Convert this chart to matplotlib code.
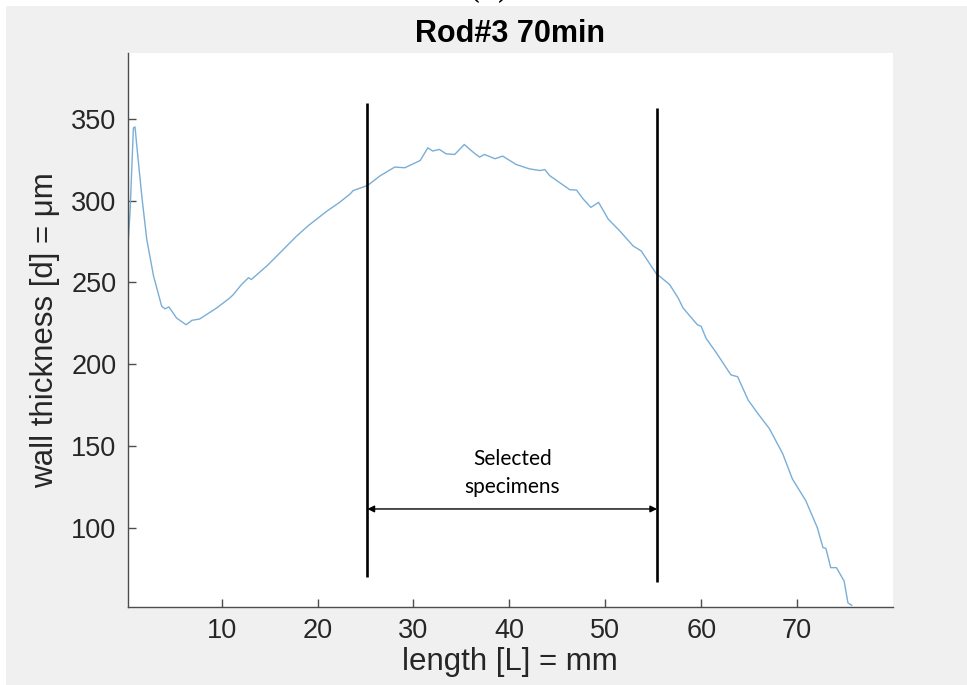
import numpy as np
import matplotlib
matplotlib.use("Agg")
import matplotlib.pyplot as plt
from matplotlib.patches import Rectangle

# perfil de espesor (longitud en mm, espesor en um)
longitud = [0.17, 0.45, 0.8, 0.97, 1.15, 1.67, 2.19, 2.9, 3.75, 4.1, 4.5, 5.3, 6.3,
            6.9, 7.7, 9.5, 10.86, 11.2, 12.08, 12.8, 13.1, 14.3, 14.7, 16.1, 17.8,
            19.0, 20.9, 22.3, 23.4, 23.7, 24.4, 24.9, 25.4, 26.5, 28.05, 29.1, 30.7,
            31.5, 32.0, 32.7, 33.4, 34.3, 35.3, 36.2, 36.9, 37.4, 38.5, 39.3, 40.7,
            42.1, 43.2, 43.7, 44.2, 45.3, 46.3, 47.0, 47.7, 48.5, 49.3, 50.3, 51.5,
            52.9, 53.75, 55.3, 56.7, 57.6, 58.1, 59.6, 60.0, 60.5, 61.6, 63.1, 63.8,
            64.9, 65.9, 67.1, 68.5, 69.5, 70.9, 72.1, 72.7, 73.0, 73.5, 74.1, 74.9,
            75.3, 75.7]
espesor = [266, 292.8, 344.3, 344.9, 333.6, 303, 276.4, 253.9, 235.5, 233.9, 235.1,
           228.3, 224.2, 226.9, 227.7, 234.5, 240.6, 242.5, 248.8, 252.9, 251.8, 258,
           260, 268.2, 278.2, 284.5, 293.2, 298.9, 304, 306, 307.5, 308.5, 310, 315,
           320.4, 320, 324.4, 332.2, 330.2, 331.2, 328.5, 328.1, 334.2, 329.6, 326.5,
           328.1, 325.5, 327.1, 322, 319.3, 318.3, 318.9, 315.2, 310.7, 306.6, 306.4,
           300.9, 295.8, 298.9, 288.7, 281.5, 272.3, 269.2, 255.5, 248.8, 240.5, 234.5,
           224.2, 223.2, 216, 206.9, 193.6, 192.5, 178.2, 170.1, 160.9, 145.5, 130.2,
           116.9, 100.5, 88.2, 87.8, 76, 76, 67.8, 54.5, 53]

# lineas que delimitan las probetas seleccionadas
corte_x = [25.2, 55.4]
corte_y_sup = [359.3, 356.3]
corte_y_inf = [70.3, 67.3]
flecha_y = 111.8
texto_sel = "Selected\nspecimens"

x_ticks = [10, 20, 30, 40, 50, 60, 70]
y_ticks = [100, 150, 200, 250, 300, 350]

gris_fondo = "#f0f0f0"
color_ejes = "#262626"

fig = plt.figure(figsize=(9.67, 6.85), dpi=100, facecolor="white")
fig.patches.append(Rectangle((6 / 967, 0), 1, (685 - 6) / 685, transform=fig.transFigure,
                             facecolor=gris_fondo, edgecolor="none", zorder=-10))
# la etiqueta (c) queda cortada en el borde superior, como en el original
fig.text(0.506, (685 - 5) / 685, "(c)", ha="center", va="bottom", fontsize=22,
         family="DejaVu Serif", color="black")

ax = fig.add_axes([0.132, 0.1139, 0.7915, 0.8087])
ax.set_facecolor("white")

ax.plot(longitud, espesor, color="#7aaed6", linewidth=1.0)

for x, y0, y1 in zip(corte_x, corte_y_inf, corte_y_sup):
    ax.plot([x, x], [y0, y1], color="black", linewidth=1.9, solid_capstyle="butt")

ax.annotate("", xy=(corte_x[1], flecha_y), xytext=(corte_x[0], flecha_y),
            arrowprops=dict(arrowstyle="<|-|>", color="black", lw=1.0,
                            mutation_scale=10, shrinkA=0, shrinkB=0))
ax.text(np.mean(corte_x), 134, texto_sel, ha="center", va="center", fontsize=15,
        family="Lato", linespacing=1.5, color="black")

ax.set_xlim(0.2, 80)
ax.set_ylim(52, 390)
ax.set_xticks(x_ticks)
ax.set_yticks(y_ticks)

for lado in ["top", "right"]:
    ax.spines[lado].set_visible(False)
for lado in ["left", "bottom"]:
    ax.spines[lado].set_color("#4d4d4d")
    ax.spines[lado].set_linewidth(1.0)

ax.tick_params(direction="in", length=6, width=1.0, color="#4d4d4d",
               labelsize=19.5, labelcolor=color_ejes, pad=8)
for etiqueta in ax.get_xticklabels() + ax.get_yticklabels():
    etiqueta.set_family("Liberation Sans")

ax.set_xlabel("length [L] = mm", fontsize=22.5, family="Liberation Sans",
              color=color_ejes, labelpad=2)
ax.set_ylabel("wall thickness [d] = μm", fontsize=22.5, family="Liberation Sans",
              color=color_ejes, labelpad=8)
ax.set_title("Rod#3 70min", fontsize=22, fontweight="bold", family="Liberation Sans",
             color="black", pad=8)

fig.savefig("out.png", dpi=100, facecolor=fig.get_facecolor())
